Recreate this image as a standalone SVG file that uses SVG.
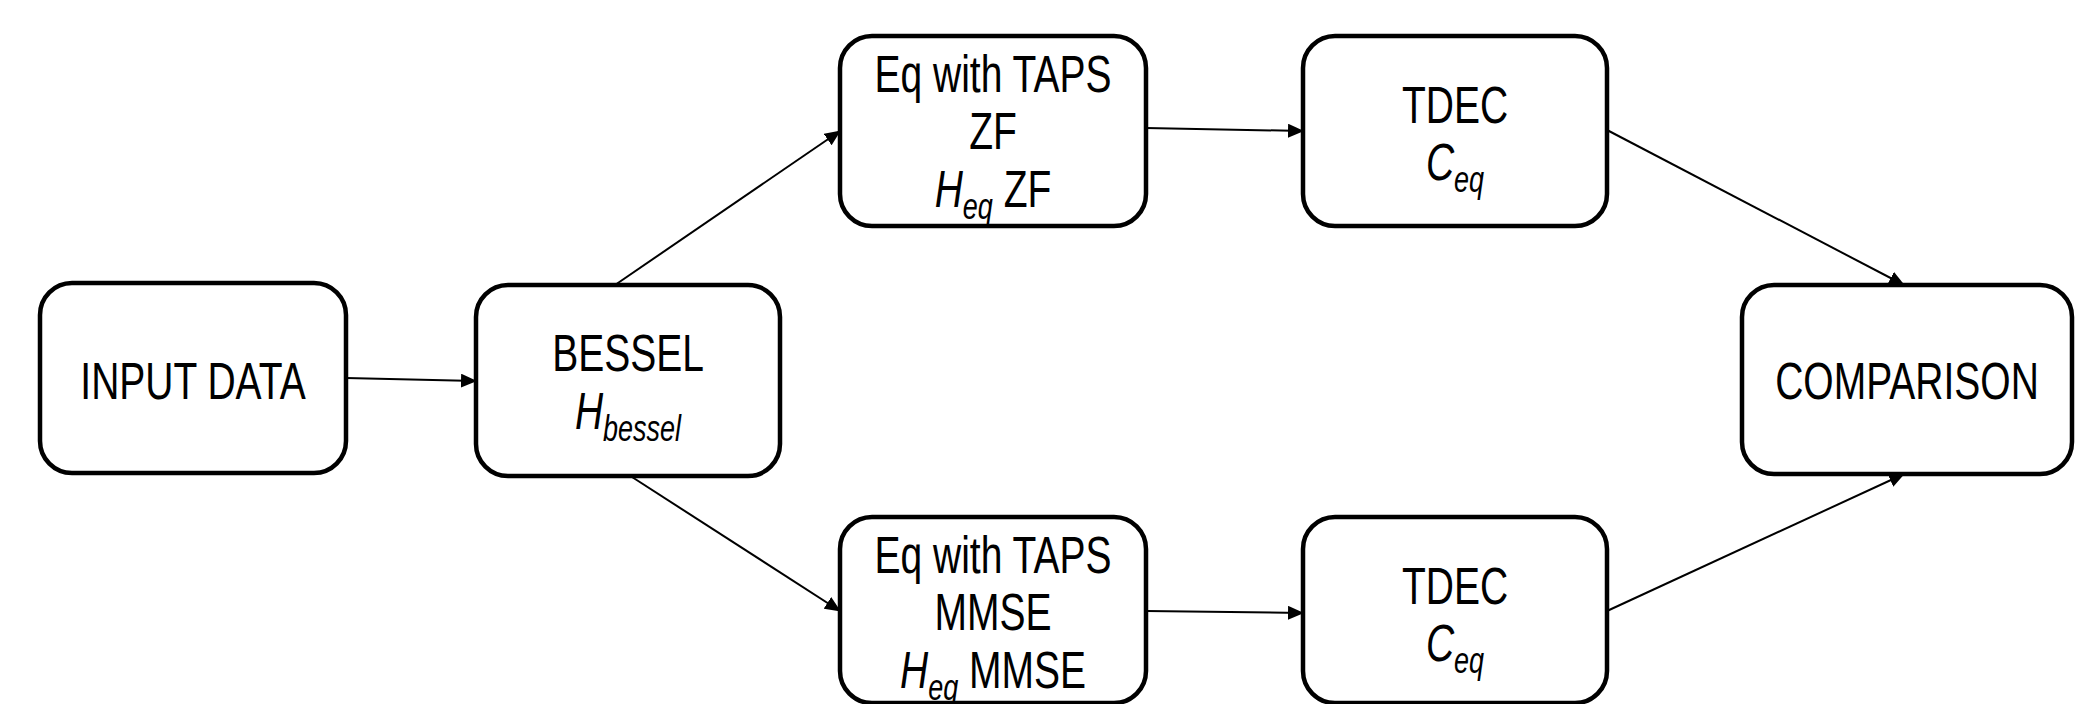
<svg xmlns="http://www.w3.org/2000/svg" width="2095" height="704" viewBox="0 0 2095 704">
<defs>
<marker id="arr" markerUnits="userSpaceOnUse" markerWidth="16" markerHeight="14" refX="15" refY="7" orient="auto">
<path d="M0,0 L16,7 L0,14 Z" fill="#000"/>
</marker>
<style>
.box{fill:#fff;stroke:#000;stroke-width:4.5}
.t{font-family:"Liberation Sans",Arial,sans-serif;font-size:52px;fill:#000;text-anchor:middle}
.sub{font-size:36px;font-style:italic}
.it{font-style:italic}
.c{stroke:#000;stroke-width:2;fill:none;marker-end:url(#arr)}
</style>
</defs>
<rect width="2095" height="704" fill="#fff"/>
<g id="connectors">
<line class="c" x1="346" y1="378" x2="476" y2="381"/>
<line class="c" x1="615" y1="285" x2="840" y2="131"/>
<line class="c" x1="632" y1="477" x2="840" y2="611"/>
<line class="c" x1="1146" y1="128" x2="1303" y2="131"/>
<line class="c" x1="1146" y1="611" x2="1303" y2="613"/>
<line class="c" x1="1607" y1="130" x2="1904" y2="285"/>
<line class="c" x1="1607" y1="611" x2="1904" y2="474"/>
</g>
<g id="input">
<rect class="box" x="40" y="283" width="306" height="190" rx="32"/>
<g transform="translate(193,0) scale(0.75,1)"><text class="t" x="0" y="399">INPUT DATA</text></g>
</g>
<g id="bessel">
<rect class="box" x="476" y="285" width="304" height="191" rx="32"/>
<g transform="translate(628,0) scale(0.75,1)">
<text class="t" x="0" y="371">BESSEL</text>
<text class="t" x="0" y="429"><tspan class="it">H</tspan><tspan class="sub" dy="12">bessel</tspan></text>
</g>
</g>
<g id="eqzf">
<rect class="box" x="840" y="36" width="306" height="190" rx="32"/>
<g transform="translate(993,0) scale(0.75,1)">
<text class="t" x="0" y="92">Eq with TAPS</text>
<text class="t" x="0" y="149">ZF</text>
<text class="t" x="0" y="207"><tspan class="it">H</tspan><tspan class="sub" dy="12">eq</tspan><tspan dy="-12"> ZF</tspan></text>
</g>
</g>
<g id="tdec1">
<rect class="box" x="1303" y="36" width="304" height="190" rx="32"/>
<g transform="translate(1455,0) scale(0.75,1)">
<text class="t" x="0" y="123">TDEC</text>
<text class="t" x="0" y="180"><tspan class="it">C</tspan><tspan class="sub" dy="12">eq</tspan></text>
</g>
</g>
<g id="comparison">
<rect class="box" x="1742" y="285" width="330" height="189" rx="32"/>
<g transform="translate(1907,0) scale(0.75,1)"><text class="t" x="0" y="399">COMPARISON</text></g>
</g>
<g id="eqmmse">
<rect class="box" x="840" y="517" width="306" height="186" rx="32"/>
<g transform="translate(993,0) scale(0.75,1)">
<text class="t" x="0" y="573">Eq with TAPS</text>
<text class="t" x="0" y="630">MMSE</text>
<text class="t" x="0" y="688"><tspan class="it">H</tspan><tspan class="sub" dy="12">eq</tspan><tspan dy="-12"> MMSE</tspan></text>
</g>
</g>
<g id="tdec2">
<rect class="box" x="1303" y="517" width="304" height="186" rx="32"/>
<g transform="translate(1455,0) scale(0.75,1)">
<text class="t" x="0" y="604">TDEC</text>
<text class="t" x="0" y="661"><tspan class="it">C</tspan><tspan class="sub" dy="12">eq</tspan></text>
</g>
</g>
</svg>
